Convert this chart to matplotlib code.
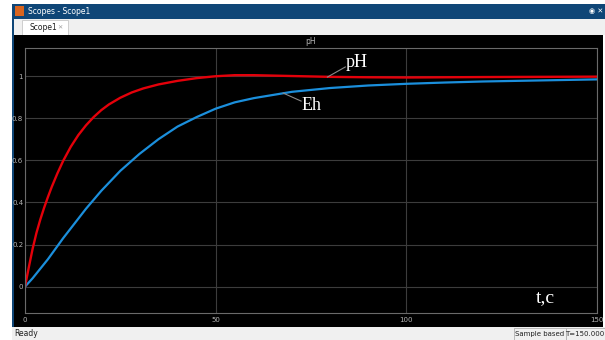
import matplotlib.pyplot as plt
from matplotlib.patches import Rectangle

# pH response (red)
t_ph = [0, 1, 2, 3, 4, 5, 6, 7, 8.5, 10, 12, 14, 16, 18, 20, 22, 25, 28, 31,
        35, 40, 45, 50, 55, 60, 70, 80, 90, 100, 110, 120, 135, 150]
ph = [0, 0.092, 0.18, 0.255, 0.318, 0.374, 0.425, 0.473, 0.538, 0.597, 0.664,
      0.72, 0.766, 0.805, 0.838, 0.865, 0.897, 0.922, 0.941, 0.96, 0.977,
      0.99, 0.999, 1.004, 1.004, 1.0, 0.996, 0.994, 0.993, 0.994, 0.995,
      0.996, 0.997]

# Eh response (blue)
t_eh = [0, 2, 4, 6, 8, 10, 13, 16, 20, 25, 30, 35, 40, 45, 50, 55, 60, 70,
        80, 90, 100, 110, 120, 135, 150]
eh = [0, 0.04, 0.085, 0.13, 0.18, 0.23, 0.30, 0.37, 0.455, 0.55, 0.63, 0.70,
      0.76, 0.805, 0.845, 0.875, 0.895, 0.925, 0.943, 0.955, 0.963, 0.969,
      0.974, 0.979, 0.984]

x_ticks = [0, 50, 100, 150]
y_ticks = [0, 0.2, 0.4, 0.6, 0.8, 1]

W, H = 605, 340
fig = plt.figure(figsize=(W / 100, H / 100), dpi=100)
fig.patch.set_facecolor('white')


def box(x, y, w, h, color, ec='none', lw=0):
    # rectangle in pixel units, y measured from the top; kept behind the axes
    fig.add_artist(Rectangle((x / W, 1 - (y + h) / H), w / W, h / H,
                             transform=fig.transFigure, facecolor=color,
                             edgecolor=ec, lw=lw, zorder=-10))


def label(x, y, s, **kw):
    fig.text(x / W, 1 - y / H, s, va='center', **kw)


# window frame
box(12, 4, 593, 15, '#0f4677')
box(15, 6, 9, 10, '#d9641e')
label(28, 11.5, 'Scopes - Scope1', color='white', fontsize=5.5)
label(603, 11.5, '\u25c9 \u2715', color='white', fontsize=5, ha='right')
box(12, 19, 593, 16, '#f0f0f0')
box(22, 20, 46, 15, 'white', ec='#c8c8c8', lw=0.6)
label(30, 27.5, 'Scope1', color='#202020', fontsize=5.5)
label(57, 27.5, '\u2715', color='#a0a0a0', fontsize=4.5)
box(12, 35, 591, 292, 'black')
box(12, 19, 1.5, 308, '#0f4677')
box(12, 327, 593, 13, '#f0f0f0')
label(14, 334, 'Ready', color='#202020', fontsize=5.5)
box(514, 328, 52, 12, '#f0f0f0', ec='#b0b0b0', lw=0.6)
box(566, 328, 39, 12, '#f0f0f0', ec='#b0b0b0', lw=0.6)
label(540, 334, 'Sample based', color='#202020', fontsize=5, ha='center')
label(585, 334, 'T=150.000', color='#202020', fontsize=5, ha='center')

ax = fig.add_axes([25 / W, 27 / H, 572 / W, 265 / H])
ax.set_facecolor('black')
ax.plot(t_eh, eh, color='#1b8fdc', lw=1.6)
ax.plot(t_ph, ph, color='#e4000a', lw=1.7)
ax.set_xlim(0, 150)
ax.set_ylim(-0.125, 1.133)
ax.set_xticks(x_ticks)
ax.set_yticks(y_ticks)
ax.set_yticklabels(['0', '0.2', '0.4', '0.6', '0.8', '1'])
ax.grid(True, color='#3c3c3c', lw=0.8)
ax.tick_params(colors='#b4b4b4', labelsize=5, length=0)
ax.tick_params(axis='y', pad=1.3)
ax.tick_params(axis='x', pad=3)
for s in ax.spines.values():
    s.set_color('#6a6a6a')
    s.set_linewidth(0.8)
ax.set_title('pH', color='#b4b4b4', fontsize=5.5, pad=3)

# curve labels with leader lines
serif = 'Liberation Serif'
ax.plot([79.3, 84.0], [0.995, 1.043], color='#8a8a8a', lw=0.8)
ax.text(84.0, 1.066, 'pH', color='white', family=serif, fontsize=13, va='center')
ax.plot([67.7, 72.4], [0.919, 0.881], color='#8a8a8a', lw=0.8)
ax.text(72.4, 0.86, 'Eh', color='white', family=serif, fontsize=13, va='center')
ax.text(136.5, -0.054, 't,c', color='white', family=serif, fontsize=14,
        ha='center', va='center')

fig.savefig('out.png', dpi=100, facecolor=fig.get_facecolor())
